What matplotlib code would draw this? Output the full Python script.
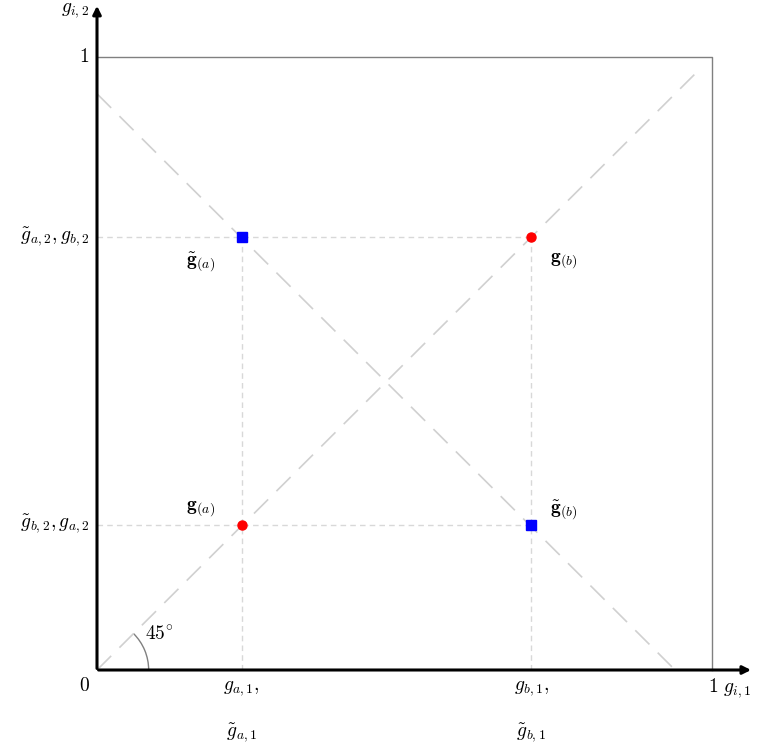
import matplotlib
matplotlib.use("Agg")
import matplotlib.pyplot as plt
from matplotlib.patches import Arc
import numpy as np

plt.rcParams['mathtext.fontset'] = 'cm'
plt.rcParams['font.family'] = 'serif'
plt.rcParams['font.serif'] = ['DejaVu Serif']

ga = (0.235, 0.237)   # g_(a)
gb = (0.706, 0.706)   # g_(b)
gta = (0.235, 0.706)  # tilde g_(a)
gtb = (0.706, 0.237)  # tilde g_(b)

fig = plt.figure(figsize=(7.57, 7.45), dpi=100)
ax = fig.add_axes([0, 0, 1, 1])
ax.set_xlim(-97/615, 660/615)
ax.set_ylim(-75/613, 670/613)
ax.axis('off')

# box
ax.plot([0, 1, 1], [1, 1, 0], color='gray', lw=1)
# diagonals
dash = dict(color='#d0d0d0', lw=1.2, dashes=(12, 7))
ax.plot([0, 0.975], [0, 0.975], **dash)
ax.plot([0, 0.94], [0.94, 0], **dash)
# guide lines
g = dict(color='#d8d8d8', lw=1, dashes=(4, 3))
ax.plot([0, gb[0]], [gb[1], gb[1]], **g)
ax.plot([0, gtb[0]], [ga[1], ga[1]], **g)
ax.plot([ga[0], ga[0]], [0, gta[1]], **g)
ax.plot([gb[0], gb[0]], [0, gb[1]], **g)
# axes arrows
ax.annotate('', xy=(1.068, 0), xytext=(-0.002, 0), annotation_clip=False,
            arrowprops=dict(arrowstyle='-|>', color='black', lw=2.2, mutation_scale=12))
ax.annotate('', xy=(0, 1.088), xytext=(0, -0.002), annotation_clip=False,
            arrowprops=dict(arrowstyle='-|>', color='black', lw=2.2, mutation_scale=12))
# angle arc
ax.add_patch(Arc((0, 0), 0.168, 0.168, theta1=0, theta2=45, color='gray', lw=1))
fs = 14
ax.text(0.078, 0.05, r'$45^{\circ}$', fontsize=fs)
# points
ax.plot([ga[0], gb[0]], [ga[1], gb[1]], 'o', color='red', ms=6.5)
ax.plot([gta[0], gtb[0]], [gta[1], gtb[1]], 's', color='blue', ms=6.5)
# point labels
ax.text(ga[0]-0.09, ga[1]+0.025, r'$\mathbf{g}_{(a)}$', fontsize=fs)
ax.text(gb[0]+0.03, gb[1]-0.04, r'$\mathbf{g}_{(b)}$', fontsize=fs)
ax.text(gta[0]-0.09, gta[1]-0.045, r'$\tilde{\mathbf{g}}_{(a)}$', fontsize=fs)
ax.text(gtb[0]+0.03, gtb[1]+0.018, r'$\tilde{\mathbf{g}}_{(b)}$', fontsize=fs)
# axis labels
ax.text(-0.012, -0.012, '$0$', fontsize=fs, ha='right', va='top')
ax.text(-0.012, 1.0, '$1$', fontsize=fs, ha='right', va='center')
ax.text(0.993, -0.01, r'$1\ g_{i,1}$', fontsize=fs, ha='left', va='top')
ax.text(-0.012, 1.06, r'$g_{i,2}$', fontsize=fs, ha='right', va='bottom')
ax.text(-0.012, gb[1], r'$\tilde{g}_{a,2}, g_{b,2}$', fontsize=fs, ha='right', va='center')
ax.text(-0.012, ga[1], r'$\tilde{g}_{b,2}, g_{a,2}$', fontsize=fs, ha='right', va='center')
for x, a in [(ga[0], 'a'), (gb[0], 'b')]:
    ax.text(x, -0.015, r'$g_{%s,1},$' % a, fontsize=fs, ha='center', va='top')
    ax.text(x, -0.085, r'$\tilde{g}_{%s,1}$' % a, fontsize=fs, ha='center', va='top')

fig.savefig('out.png', dpi=100)
